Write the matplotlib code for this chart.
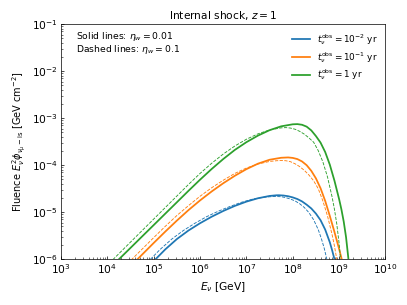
import numpy as np
import matplotlib
matplotlib.use("Agg")
import matplotlib.pyplot as plt

# log10(E [GeV]) and log10(fluence [GeV cm^-2])
# eta_w = 0.01 (solid lines)
logE_1yr_s = [4.0, 4.25, 4.5, 4.75, 5.0, 5.25, 5.5, 5.75, 6.0, 6.25, 6.5, 6.75, 7.0, 7.25, 7.5, 7.75, 8.0, 8.1,
              8.2, 8.3, 8.4, 8.5, 8.6, 8.7, 8.8, 8.9, 9.0, 9.05, 9.1, 9.15, 9.2, 9.25]
logF_1yr_s = [-6.24, -6.0, -5.758, -5.515, -5.273, -5.03, -4.788, -4.545, -4.308, -4.081, -3.869, -3.675, -3.51,
              -3.37, -3.255, -3.173, -3.13, -3.126,
              -3.14, -3.18, -3.26, -3.38, -3.52, -3.72, -3.99, -4.33, -4.72, -4.94, -5.20, -5.53, -5.98, -6.5]
logE_01yr_s = [4.4, 4.65, 5.0, 5.25, 5.5, 5.75, 6.0, 6.25, 6.5, 6.75, 7.0, 7.25, 7.5, 7.75, 7.9,
               8.0, 8.1, 8.2, 8.3, 8.4, 8.5, 8.6, 8.7, 8.8, 8.9, 9.0, 9.07, 9.12]
logF_01yr_s = [-6.25, -6.0, -5.654, -5.412, -5.178, -4.955, -4.749, -4.559, -4.384, -4.225, -4.084, -3.967,
               -3.884, -3.842, -3.835,
               -3.845, -3.87, -3.92, -4.00, -4.12, -4.28, -4.49, -4.76, -5.08, -5.42, -5.78, -6.05, -6.3]
logE_001yr_s = [4.83, 5.04, 5.25, 5.5, 5.75, 6.0, 6.25, 6.5, 6.75, 7.0, 7.25, 7.5, 7.65, 7.7,
                7.8, 7.9, 8.0, 8.1, 8.2, 8.3, 8.4, 8.5, 8.6, 8.7, 8.8, 8.85, 8.9, 8.95]
logF_001yr_s = [-6.22, -6.0, -5.79, -5.571, -5.389, -5.234, -5.096, -4.974, -4.866, -4.775, -4.703, -4.654,
                -4.64, -4.639,
                -4.645, -4.66, -4.685, -4.72, -4.77, -4.84, -4.92, -5.03, -5.17, -5.37, -5.64, -5.81, -6.0, -6.2]

# eta_w = 0.1 (dashed lines)
logE_1yr_d = [3.9, 4.128, 4.25, 4.5, 4.75, 5.0, 5.25, 5.5, 5.75, 6.0, 6.25, 6.5, 6.75, 7.0, 7.25, 7.5, 7.75, 7.85,
              7.95, 8.05, 8.15, 8.25, 8.35, 8.45, 8.55, 8.65, 8.75, 8.85, 8.9, 8.95, 9.0, 9.05]
logF_1yr_d = [-6.22, -6.0, -5.88, -5.635, -5.39, -5.145, -4.90, -4.655, -4.41, -4.175, -3.959, -3.763, -3.592,
              -3.448, -3.333, -3.25, -3.206, -3.20,
              -3.21, -3.235, -3.28, -3.34, -3.42, -3.51, -3.69, -3.93, -4.25, -4.68, -4.94, -5.25, -5.66, -6.2]
logE_01yr_d = [4.3, 4.53, 4.75, 5.0, 5.25, 5.5, 5.75, 6.0, 6.25, 6.5, 6.75, 7.0, 7.25, 7.5, 7.65, 7.75, 7.85,
               7.95, 8.05, 8.15, 8.25, 8.35, 8.45, 8.55, 8.65, 8.75, 8.85, 8.9, 8.95, 9.0]
logF_01yr_d = [-6.23, -6.0, -5.785, -5.54, -5.30, -5.07, -4.86, -4.66, -4.48, -4.32, -4.175, -4.06, -3.975,
               -3.92, -3.905, -3.90, -3.905,
               -3.925, -3.97, -4.03, -4.11, -4.21, -4.33, -4.50, -4.76, -5.08, -5.48, -5.72, -6.0, -6.32]
logE_001yr_d = [4.72, 4.93, 5.14, 5.39, 5.64, 5.89, 6.14, 6.39, 6.64, 6.89, 7.14, 7.39, 7.6, 7.75,
                7.85, 7.95, 8.05, 8.15, 8.25, 8.35, 8.45, 8.55, 8.62, 8.68, 8.735, 8.8]
logF_001yr_d = [-6.22, -6.0, -5.79, -5.571, -5.389, -5.234, -5.096, -4.98, -4.88, -4.79, -4.72, -4.68, -4.665,
                -4.67,
                -4.69, -4.72, -4.76, -4.82, -4.90, -5.01, -5.16, -5.37, -5.57, -5.77, -6.0, -6.3]

labels = [r"$t_\nu^{\rm obs}=10^{-2}$ yr", r"$t_\nu^{\rm obs}=10^{-1}$ yr", r"$t_\nu^{\rm obs}=1$ yr"]
colors = ["#1f77b4", "#ff7f0e", "#2ca02c"]

solid = [(logE_001yr_s, logF_001yr_s), (logE_01yr_s, logF_01yr_s), (logE_1yr_s, logF_1yr_s)]
dashed = [(logE_001yr_d, logF_001yr_d), (logE_01yr_d, logF_01yr_d), (logE_1yr_d, logF_1yr_d)]

fig = plt.figure(figsize=(6.4, 4.8), dpi=407 / 6.4)
ax = fig.add_axes([0.150, 0.150, 0.797, 0.770])

for (ex, fy), c, lab in zip(solid, colors, labels):
    ax.plot(10 ** np.array(ex), 10 ** np.array(fy), color=c, lw=2, label=lab)
for (ex, fy), c in zip(dashed, colors):
    ax.plot(10 ** np.array(ex), 10 ** np.array(fy), color=c, lw=1, ls="--")

ax.set_xscale("log")
ax.set_yscale("log")
ax.set_xlim(1e3, 1e10)
ax.set_ylim(1e-6, 1e-1)
ax.tick_params(which="both", direction="in", labelsize=12)
ax.set_xlabel(r"$E_\nu$ [GeV]", fontsize=12)
ax.set_ylabel(r"Fluence $E_\nu^2\phi_{\nu_\mu-{\rm is}}$ [GeV cm$^{-2}$]", fontsize=11)
ax.set_title(r"Internal shock, $z=1$", fontsize=12)
ax.text(0.045, 0.975, "Solid lines: $\\eta_w=0.01$\nDashed lines: $\\eta_w=0.1$",
        transform=ax.transAxes, ha="left", va="top", fontsize=10.5, linespacing=1.0)
ax.legend(loc="upper right", frameon=False, fontsize=10, labelspacing=0.3)

fig.savefig("out.png", dpi=407 / 6.4)
